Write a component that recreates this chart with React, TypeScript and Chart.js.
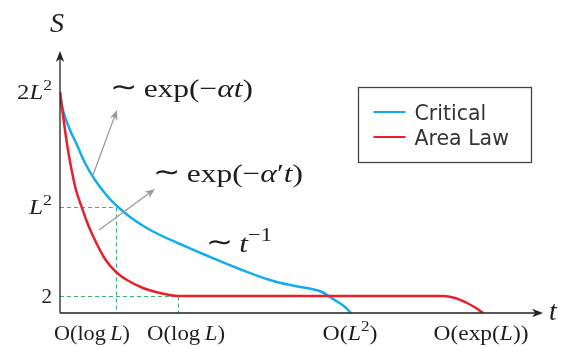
import React, { useEffect, useRef } from 'react';
import { Chart, registerables } from 'chart.js';

Chart.register(...registerables);

// ---- data (time t vs entropy S, schematic units) ----
const critT = [0, 2, 5, 10, 17, 25, 35, 48, 58, 70, 85, 100, 120, 143, 177, 210, 235, 252, 262, 270, 278, 285, 291];
const critS = [221, 207, 196, 183, 168, 150, 133, 116, 106, 96, 86, 78, 69, 59, 45, 33, 27, 24, 21, 16, 11, 6, 0];
const areaT = [0, 2, 5, 8, 12, 16, 22, 27, 33, 45, 56, 67, 83, 100, 118, 250, 383, 395, 407, 416, 423];
const areaS = [221, 205, 183, 163, 141, 123, 105, 91, 77, 54, 41, 33, 25, 20, 17, 17, 17, 15, 10, 5, 0];

const seriesNames = ['Critical', 'Area Law'];
const seriesColors = ['#12aeea', '#e8202a'];

const yTickValues = [221, 106, 17];
const yTickLabels = ['2L^2', 'L^2', '2'];

const xTickValues = [32, 126, 290, 421];
const xTickLabels = ['\\mathcal{O}(\\log L)', '\\mathcal{O}(\\log L)', '\\mathcal{O}(L^2)', '\\mathcal{O}(\\exp(L))'];

// guide lines: [t, S] corners
const guideT = [56, 118];
const guideS = [106, 17];

const annotTexts = ['\\sim \\exp(-\\alpha t)', "\\sim \\exp(-\\alpha' t)", '\\sim t^{-1}'];

const SERIF = '"Liberation Serif", "DejaVu Serif", serif';

type Tok = { t: string; it: boolean; sup: boolean; big?: boolean };

function parseTex(src: string): Tok[] {
  const out: Tok[] = [];
  const push = (t: string, it: boolean, sup: boolean, big?: boolean) => out.push({ t, it, sup, big });
  const parseInto = (s: string, sup: boolean) => {
    let j = 0;
    while (j < s.length) {
      const c = s[j];
      if (c === '\\') {
        let k = j + 1;
        while (k < s.length && /[a-zA-Z]/.test(s[k])) k++;
        const cmd = s.slice(j + 1, k);
        j = k;
        if (cmd === 'sim') {
          push('\u223C', false, sup, true);
          push('\u2009', false, sup);
        } else if (cmd === 'log' || cmd === 'exp') {
          push(cmd, false, sup);
          if (cmd === 'log') push('\u2009', false, sup);
        } else if (cmd === 'alpha') {
          push('\u03B1', true, sup);
        } else if (cmd === 'mathcal') {
          const close = s.indexOf('}', j);
          push(s.slice(j + 1, close), false, sup);
          j = close + 1;
        }
        continue;
      }
      if (c === '^') {
        let arg = '';
        if (s[j + 1] === '{') {
          const close = s.indexOf('}', j + 1);
          arg = s.slice(j + 2, close);
          j = close + 1;
        } else {
          arg = s[j + 1];
          j += 2;
        }
        parseInto(arg, true);
        continue;
      }
      if (c === ' ') {
        j++;
        continue;
      }
      if (c === '-') push('\u2212', false, sup);
      else if (c === "'") push('\u2032', false, sup);
      else if (/[a-zA-Z]/.test(c)) push(c, true, sup);
      else push(c, false, sup);
      j++;
    }
  };
  parseInto(src, false);
  return out;
}

function drawTex(
  ctx: CanvasRenderingContext2D,
  src: string,
  x: number,
  y: number,
  size: number,
  align: 'left' | 'center' | 'right',
  targetW?: number
) {
  const toks = parseTex(src);
  const fontFor = (tk: Tok) => {
    if (tk.big) return `${Math.round(size * 1.05)}px "DejaVu Sans", sans-serif`;
    return `${tk.it ? 'italic ' : ''}${tk.sup ? Math.round(size * 0.72) : size}px ${SERIF}`;
  };
  let w = 0;
  const ws: number[] = [];
  for (const tk of toks) {
    ctx.font = fontFor(tk);
    const m = ctx.measureText(tk.t).width;
    ws.push(m);
    w += m;
  }
  const k = targetW ? Math.max(0.8, Math.min(1.3, targetW / w)) : 1;
  const total = w * k;
  const x0 = align === 'center' ? x - total / 2 : align === 'right' ? x - total : x;
  ctx.save();
  ctx.translate(x0, y);
  ctx.scale(k, 1);
  ctx.fillStyle = '#1e1e1e';
  ctx.textBaseline = 'alphabetic';
  ctx.textAlign = 'left';
  let cx = 0;
  toks.forEach((tk, i) => {
    ctx.font = fontFor(tk);
    const dy = tk.sup ? -size * 0.42 : tk.big ? -size * 0.02 : 0;
    ctx.fillText(tk.t, cx, dy);
    cx += ws[i];
  });
  ctx.restore();
}

function arrowHead(ctx: CanvasRenderingContext2D, x1: number, y1: number, x2: number, y2: number, len: number, half: number) {
  const a = Math.atan2(y2 - y1, x2 - x1);
  const ca = Math.cos(a), sa = Math.sin(a);
  const bx = x2 - len * ca, by = y2 - len * sa;
  const ix = x2 - len * 0.7 * ca, iy = y2 - len * 0.7 * sa;
  ctx.beginPath();
  ctx.moveTo(x2, y2);
  ctx.lineTo(bx - half * sa, by + half * ca);
  ctx.lineTo(ix, iy);
  ctx.lineTo(bx + half * sa, by - half * ca);
  ctx.closePath();
  ctx.fill();
}

const decorPlugin = {
  id: 'decor',
  beforeDatasetsDraw(chart: any) {
    const ctx: CanvasRenderingContext2D = chart.ctx;
    const xs = chart.scales.x, ys = chart.scales.y;
    ctx.save();
    ctx.strokeStyle = '#3cb371';
    ctx.lineWidth = 1.2;
    ctx.setLineDash([4, 3]);
    for (let i = 0; i < guideT.length; i++) {
      const px = Math.round(xs.getPixelForValue(guideT[i])) + 0.5;
      const py = Math.round(ys.getPixelForValue(guideS[i])) + 0.5;
      const x0 = xs.getPixelForValue(0), y0 = ys.getPixelForValue(0);
      ctx.beginPath();
      ctx.moveTo(x0, py);
      ctx.lineTo(px, py);
      ctx.moveTo(px, py);
      ctx.lineTo(px, y0);
      ctx.stroke();
    }
    ctx.restore();
  },
  afterDatasetsDraw(chart: any) {
    const ctx: CanvasRenderingContext2D = chart.ctx;
    const xs = chart.scales.x, ys = chart.scales.y;
    const area = chart.chartArea;
    const X = (v: number) => xs.getPixelForValue(v);
    const Y = (v: number) => ys.getPixelForValue(v);
    ctx.save();
    // axes
    ctx.strokeStyle = '#222';
    ctx.fillStyle = '#222';
    ctx.lineWidth = 1.3;
    ctx.beginPath();
    ctx.moveTo(area.left, area.bottom);
    ctx.lineTo(area.left, area.top + 4);
    ctx.moveTo(area.left, area.bottom);
    ctx.lineTo(area.right - 4, area.bottom);
    ctx.stroke();
    arrowHead(ctx, area.left, area.bottom, area.left, area.top, 11, 4.2);
    arrowHead(ctx, area.left, area.bottom, area.right, area.bottom, 11, 4.2);

    // grey annotation arrows
    ctx.strokeStyle = '#9a9a9a';
    ctx.fillStyle = '#9a9a9a';
    ctx.lineWidth = 1.3;
    const arrows = [
      [33, 138, 57, 203],
      [39, 83, 95, 124],
    ];
    for (const [a, b, c, d] of arrows) {
      const x1 = X(a), y1 = Y(b), x2 = X(c), y2 = Y(d);
      const ang = Math.atan2(y2 - y1, x2 - x1);
      ctx.beginPath();
      ctx.moveTo(x1, y1);
      ctx.lineTo(x2 - 6 * Math.cos(ang), y2 - 6 * Math.sin(ang));
      ctx.stroke();
      arrowHead(ctx, x1, y1, x2, y2, 10, 4);
    }

    // axis titles
    drawTex(ctx, 'S', area.left - 10, area.top - 19, 28, 'left');
    drawTex(ctx, 't', area.right + 6, area.bottom + 7, 28, 'left');

    // y tick labels
    const yW = [35, 23, 0];
    yTickValues.forEach((v, i) => {
      drawTex(ctx, yTickLabels[i], area.left - 8, Y(v) + 7, 21, 'right', yW[i] || undefined);
    });
    // x tick labels
    const xW = [76, 78, 55, 95];
    xTickValues.forEach((v, i) => {
      drawTex(ctx, xTickLabels[i], X(v), area.bottom + 27, 21, 'center', xW[i]);
    });

    // annotations
    drawTex(ctx, annotTexts[0], X(50), Y(216), 26, 'left', 143);
    drawTex(ctx, annotTexts[1], X(93), Y(131), 26, 'left', 150);
    drawTex(ctx, annotTexts[2], X(146), Y(61), 26, 'left', 66);

    // legend
    const bx = 358.5, by = 87.5, bw = 173, bh = 75;
    ctx.fillStyle = '#fff';
    ctx.fillRect(bx, by, bw, bh);
    ctx.strokeStyle = '#444';
    ctx.lineWidth = 1.3;
    ctx.strokeRect(bx, by, bw, bh);
    chart.data.datasets.forEach((ds: any, i: number) => {
      const yy = by + 24.5 + i * 25;
      ctx.strokeStyle = ds.borderColor;
      ctx.lineWidth = 2;
      ctx.beginPath();
      ctx.moveTo(bx + 15, yy);
      ctx.lineTo(bx + 47, yy);
      ctx.stroke();
      ctx.fillStyle = '#333';
      ctx.font = '20.5px "DejaVu Sans", sans-serif';
      ctx.textBaseline = 'alphabetic';
      ctx.textAlign = 'left';
      ctx.fillText(ds.label, bx + 56, yy + 8);
    });
    ctx.restore();
  },
};

export default function App() {
  const ref = useRef<HTMLCanvasElement>(null);
  useEffect(() => {
    const canvas = ref.current;
    if (!canvas) return;
    const chart = new Chart(canvas, {
      type: 'scatter',
      data: {
        datasets: [
          {
            label: seriesNames[0],
            data: critT.map((t, i) => ({ x: t, y: critS[i] })),
            borderColor: seriesColors[0],
            backgroundColor: seriesColors[0],
            borderWidth: 2.5,
            showLine: true,
            pointRadius: 0,
            tension: 0.4,
            order: 1,
          },
          {
            label: seriesNames[1],
            data: areaT.map((t, i) => ({ x: t, y: areaS[i] })),
            borderColor: seriesColors[1],
            backgroundColor: seriesColors[1],
            borderWidth: 2.5,
            showLine: true,
            pointRadius: 0,
            cubicInterpolationMode: 'monotone',
            order: 0,
          },
        ],
      },
      options: {
        responsive: false,
        animation: false,
        devicePixelRatio: 1,
        layout: { padding: { left: 60, right: 24, top: 51, bottom: 34 } },
        scales: {
          x: { type: 'linear', display: false, min: 0, max: 483 },
          y: { type: 'linear', display: false, min: 0, max: 262 },
        },
        plugins: {
          legend: { display: false },
          tooltip: { enabled: false },
        },
      },
      plugins: [decorPlugin],
    } as any);
    return () => chart.destroy();
  }, []);
  return (
    <div style={{ position: 'fixed', left: 0, top: 0, width: 567, height: 347, background: '#fff' }}>
      <canvas ref={ref} width={567} height={347} style={{ display: 'block', width: 567, height: 347 }} />
    </div>
  );
}
